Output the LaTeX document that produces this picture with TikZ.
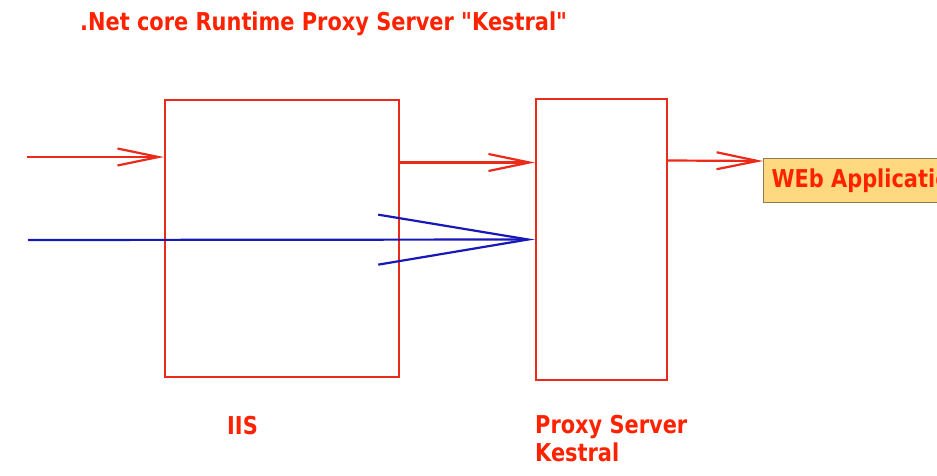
\documentclass[tikz,border=0pt]{standalone}
\usepackage{fontspec}
\usepackage{tikz}
\usepackage{xcolor}
\usetikzlibrary{calc,arrows.meta}
\newfontfamily\lblfont[FakeStretch=0.85]{DejaVu Sans}
\definecolor{rline}{HTML}{EC2A1A}
\definecolor{rtext}{HTML}{FF2200}
\definecolor{bline}{HTML}{1818B8}
\definecolor{wfill}{HTML}{FFD97F}
\definecolor{wdraw}{HTML}{8C7A55}

\begin{document}
\begin{tikzpicture}[x=1pt,y=-1pt]
        \tikzstyle{every node}=[inner sep=0pt,text=rtext,font=\lblfont\bfseries\fontsize{24.6}{28}\selectfont]
        \tikzstyle{srv}=[draw=rline,line width=2.2pt]
        \tikzstyle{rarr}=[draw=rline,line width=2.2pt,-{Straight Barb[length=41pt,width=17pt]}]
        \tikzstyle{barr}=[draw=bline,line width=2.2pt,-{Straight Barb[length=150pt,width=50pt]}]
        \path[use as bounding box,clip] (0,0) rectangle (937,476);

        \node[anchor=base west] (title) at (80,31) {.Net core Runtime Proxy Server "Kestral"};

        \node[srv,minimum width=234,minimum height=277] (iis) at (282,238.5) {};
        \node[srv,minimum width=131,minimum height=281] (kes) at (601.5,239.5) {};
        \node[anchor=north west,draw=wdraw,fill=wfill,line width=1pt,minimum height=44,inner xsep=8pt] (web) at (763,158) {WEb Application};

        \node[anchor=base west] (iisl) at (227,434) {IIS};
        \node[anchor=base west,align=left] (kesl) at (535,461) {Proxy Server\\Kestral};

        \coordinate (in1) at (27,157);
        \coordinate (in2) at (28,240);
        \draw[rarr] (in1) -- (in1 -| iis.west);
        \draw[rarr] ($(iis.east)+(0,-76)$) -- ($(kes.west)+(0,-77)$);
        \draw[barr] (in2) -- (kes.west);
        \draw[rarr] ($(kes.east)+(0,-79)$) -- ($(web.north west)+(0,3)$);
    \end{tikzpicture}
\end{document}
